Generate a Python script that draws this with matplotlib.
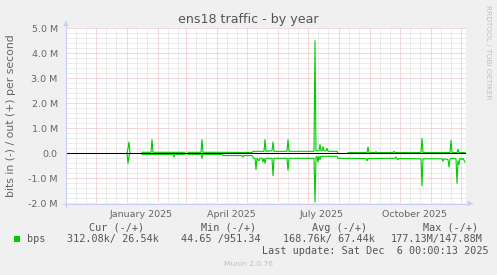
# munin style yearly traffic graph for ens18
import datetime as dt
import numpy as np
import matplotlib
matplotlib.use('Agg')
from matplotlib import pyplot as plt
from matplotlib.patches import Polygon, Rectangle

nan = np.nan

# day offsets from the left edge of the graph (400 days before last update), values in Mbit/s
START = dt.date(2024, 11, 1)
SPAN_DAYS = 400

OUT_POINTS = [(61, 0.0), (62, 0.2), (63, 0.45), (64, 0.0), (65, nan),
              (76, 0.04), (85, 0.04), (86, 0.55), (87, 0.04), (119, 0.04), (120, nan),
              (122, 0.04), (135, 0.04), (136, 0.55), (137, 0.04), (157, 0.04), (186, 0.03),
              (187, 0.08), (198, 0.08), (199, 0.55), (200, 0.08), (206, 0.1), (207, 0.45),
              (208, 0.08), (221, 0.08), (222, 0.55), (223, 0.08), (248, 0.08), (249, 4.5),
              (250, 0.1), (253, 0.1), (254, 0.35), (255, 0.1), (256, 0.1), (257, 0.26),
              (258, 0.1), (260, 0.1), (261, 0.2), (262, 0.08), (271, 0.08), (272, 0.0), (273, nan),
              (282, 0.03), (301, 0.03), (302, 0.25), (303, 0.03), (309, 0.03), (310, 0.06),
              (311, 0.03), (327, 0.03), (328, 0.08), (329, 0.03), (355, 0.03), (356, 0.6),
              (357, 0.03), (384, 0.03), (385, 0.52), (386, 0.03), (391, 0.03), (392, 0.16),
              (393, 0.03), (399, 0.03)]

IN_POINTS = [(61, 0.0), (62, -0.4), (63, -0.1), (64, 0.0), (65, nan),
             (76, -0.04), (107, -0.04), (108, -0.15), (109, -0.04), (119, -0.04), (120, nan),
             (122, -0.04), (135, -0.04), (136, -0.2), (137, -0.04), (156, -0.04), (157, -0.09),
             (176, -0.09), (177, -0.15), (178, -0.09), (186, -0.09), (187, -0.15), (188, -0.2),
             (189, -0.2), (190, -0.65), (191, -0.2), (193, -0.3), (194, -0.2), (196, -0.2),
             (197, -0.35), (198, -0.2), (199, -0.4), (200, -0.2), (206, -0.2), (207, -0.9),
             (208, -0.2), (221, -0.2), (222, -0.68), (223, -0.2), (248, -0.2), (249, -1.95),
             (250, -0.15), (251, -0.12), (252, -0.35), (253, -0.12), (254, -0.25), (255, -0.12),
             (271, -0.12), (272, -0.2), (300, -0.21), (301, -0.3), (302, -0.21), (329, -0.2),
             (330, -0.15), (331, -0.22), (332, -0.26), (333, -0.21), (355, -0.22), (356, -1.3),
             (357, -0.22), (376, -0.22), (377, -0.32), (378, -0.22), (382, -0.25), (383, -0.55),
             (384, -0.25), (385, -0.2), (390, -0.22), (391, -1.2), (392, -0.3), (393, -0.45),
             (394, -0.2), (396, -0.25), (397, -0.2), (399, -0.35)]

Y_TICKS = [-2, -1, 0, 1, 2, 3, 4, 5]
Y_TICK_LABELS = ['-2.0 M', '-1.0 M', '0.0', '1.0 M', '2.0 M', '3.0 M', '4.0 M', '5.0 M']
X_LABEL_DATES = [dt.date(2025, 1, 15), dt.date(2025, 4, 15), dt.date(2025, 7, 15), dt.date(2025, 10, 15)]
X_LABELS = ['January 2025', 'April 2025', 'July 2025', 'October 2025']

TITLE = 'ens18 traffic - by year'
Y_LABEL = 'bits in (-) / out (+) per second'
SERIES_NAME = 'bps'
HEADERS = ['Cur (-/+)', 'Min (-/+)', 'Avg (-/+)', 'Max (-/+)']
STATS = ['312.08k/ 26.54k', '44.65 /951.34', '168.76k/ 67.44k', '177.13M/147.88M']
LAST_UPDATE = 'Last update: Sat Dec  6 00:00:13 2025'

W, H = 497, 275
GREEN = '#00cc00'
TEXT = '#555555'
AXIS = '#c8cef5'
MINOR = '#d9d9d9'
MAJOR = '#efb3b3'


def fx(px):
    return px / W


def fy(py):
    return 1 - py / H


def day_of(d):
    return (d - START).days


fig = plt.figure(figsize=(W / 100, H / 100), dpi=100, facecolor='#f0f0f0')
left, right, top, bottom = 66, 466, 28.3, 203.3
ax = fig.add_axes([fx(left), fy(bottom), (right - left) / W, (bottom - top) / H])
ax.set_facecolor('white')
ax.set_xlim(0, SPAN_DAYS)
ax.set_ylim(-2, 5)
for s in ax.spines.values():
    s.set_visible(False)

# grid: minor every 0.2M and on the 11th/21st, major on each 1M and month start
for v in np.arange(-2, 5.01, 0.2):
    if abs(v - round(v)) > 1e-6:
        ax.axhline(v, color=MINOR, lw=0.72, ls=(0, (1, 1)), zorder=1)
for v in Y_TICKS:
    ax.axhline(v, color=MAJOR, lw=0.72, ls=(0, (1, 1)), zorder=1)
d = START
while (d - START).days <= SPAN_DAYS:
    if d.day == 1:
        ax.axvline(day_of(d), color=MAJOR, lw=0.72, ls=(0, (1, 1)), zorder=1)
    elif d.day in (11, 21):
        ax.axvline(day_of(d), color=MINOR, lw=0.72, ls=(0, (1, 1)), zorder=1)
    d += dt.timedelta(days=1)

# traffic
od, ov = zip(*OUT_POINTS)
idd, iv = zip(*IN_POINTS)
ax.plot(idd, iv, color=GREEN, lw=0.8, zorder=3)
ax.plot(od, ov, color=GREEN, lw=0.8, zorder=3)
ax.axhline(0, color='black', lw=0.75, zorder=4)

ax.set_yticks(Y_TICKS)
ax.set_yticklabels(Y_TICK_LABELS)
ax.set_xticks([day_of(x) for x in X_LABEL_DATES])
ax.set_xticklabels(X_LABELS)
ax.tick_params(length=0, labelsize=6.8, colors='#666666')
ax.tick_params(axis='y', pad=6)
ax.tick_params(axis='x', pad=5)

# axis lines with arrows
fig.add_artist(plt.Line2D([fx(66), fx(66)], [fy(207), fy(24)], color=AXIS, lw=0.8))
fig.add_artist(plt.Line2D([fx(63), fx(469)], [fy(203.5), fy(203.5)], color=AXIS, lw=0.8))
fig.add_artist(Polygon([[fx(66), fy(20.5)], [fx(63.5), fy(26)], [fx(68.5), fy(26)]],
                       closed=True, color=AXIS, lw=0))
fig.add_artist(Polygon([[fx(473.5), fy(203.5)], [fx(467.5), fy(200.8)], [fx(467.5), fy(206.2)]],
                       closed=True, color=AXIS, lw=0))

fig.text(fx(248), fy(19.5), TITLE, ha='center', va='center', fontsize=9.1, color=TEXT)
fig.text(fx(11.5), fy(115.5), Y_LABEL, ha='center', va='center', rotation=90,
         fontsize=7.8, color='#666666')
fig.text(fx(488), fy(5), 'RRDTOOL / TOBI OETIKER', ha='center', va='top', rotation=270,
         fontsize=5.3, color='#c0c0c0')

# legend
mono = dict(family='DejaVu Sans Mono', fontsize=7.3, color=TEXT, va='center')
for txt, x in zip(HEADERS, [89.3, 200.7, 311.7, 422.7]):
    fig.text(fx(x), fy(227.7), txt, ha='left', **mono)
fig.add_artist(Rectangle((fx(14), fy(242)), 6 / W, 6 / H, color=GREEN, lw=0))
fig.text(fx(26.7), fy(239.2), SERIES_NAME, ha='left', **mono)
for txt, x in zip(STATS, [66.7, 181, 282.7, 391]):
    fig.text(fx(x), fy(239.2), txt, ha='left', **mono)
fig.text(fx(261.7), fy(251), LAST_UPDATE, ha='left', **mono)
fig.text(fx(248), fy(264.3), 'Munin 2.0.76', ha='center', va='center', fontsize=5.4, color='#c0c0c0')

fig.savefig('out.png', dpi=100, facecolor=fig.get_facecolor())
